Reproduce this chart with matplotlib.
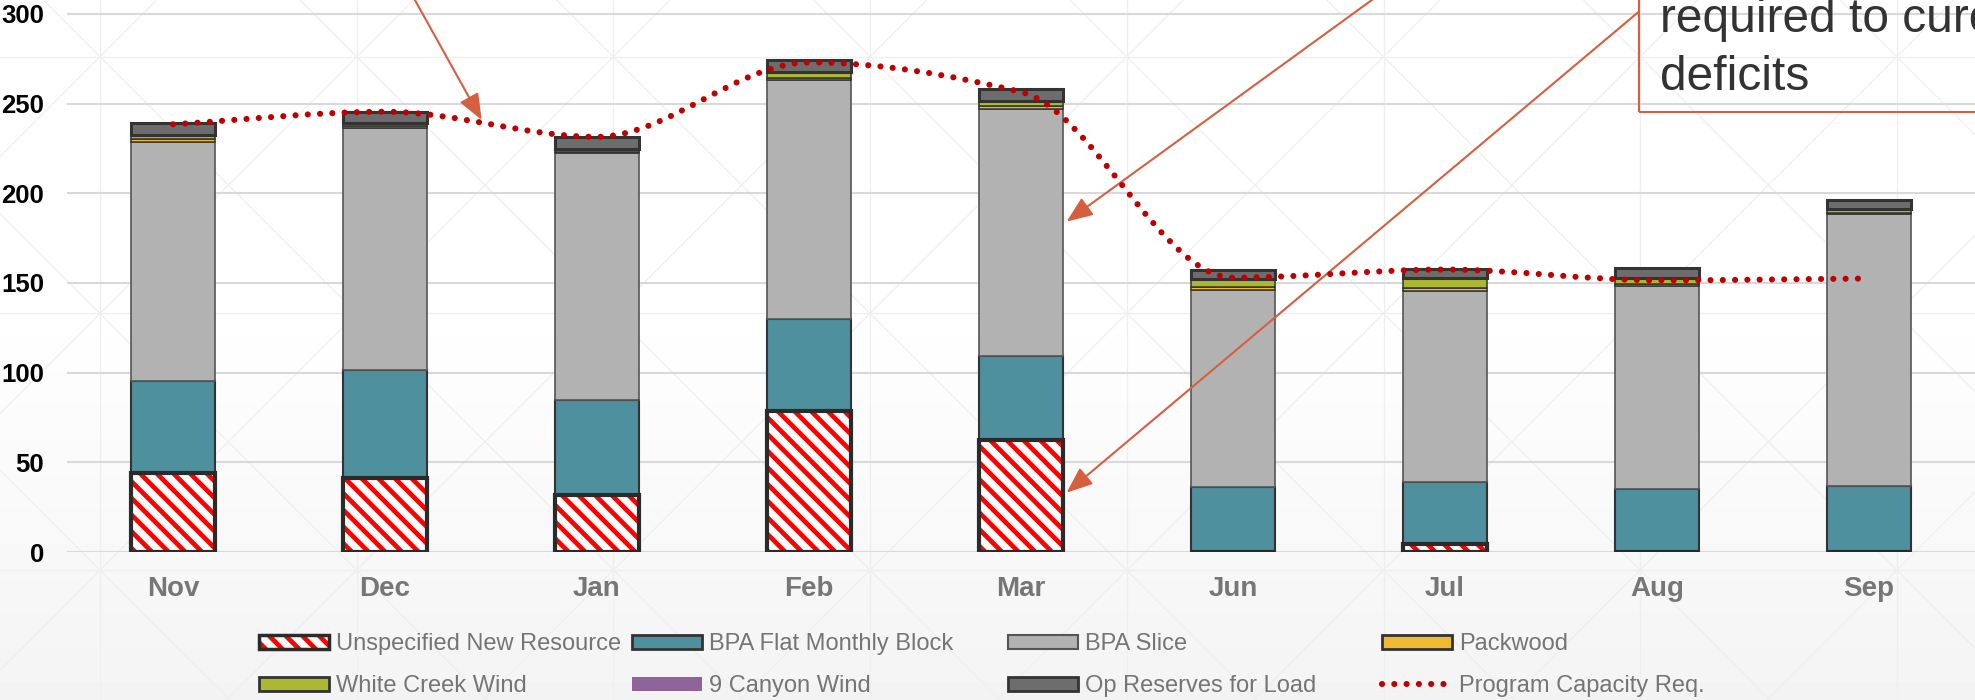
import numpy as np
import matplotlib
matplotlib.use("Agg")
import matplotlib.pyplot as plt
from matplotlib.patches import Patch, PathPatch, Rectangle
from matplotlib.path import Path
from matplotlib.lines import Line2D

plt.rcParams['font.family'] = ['Liberation Sans', 'DejaVu Sans']
plt.rcParams['hatch.linewidth'] = 3.4

# values (MW)
months = ["Nov", "Dec", "Jan", "Feb", "Mar", "Jun", "Jul", "Aug", "Sep"]
unspecified = [44, 41.5, 32, 78.5, 62.5, 0, 4.3, 0, 0]
flat_block = [51.5, 60, 53, 51.5, 47, 36.5, 35, 35, 37]
bpa_slice = [133, 134.8, 137.5, 133, 137.5, 109.5, 106.5, 113.5, 151.5]
packwood = [2, 1.2, 0.8, 1.5, 1.5, 1.8, 1.5, 1, 0.5]
white_creek = [2, 1.5, 1.6, 3, 3, 4.5, 5.5, 3.5, 2.5]
nine_canyon = [0, 0, 0, 0, 0, 0, 0, 0, 0]
op_reserves = [6.5, 6.5, 6.5, 7, 6.6, 4.9, 4.9, 5.5, 5]
program_req = [238.5, 245.5, 231.5, 273, 256.5, 153, 157.5, 151.5, 152.5]

W, H = 1975, 700
fig = plt.figure(figsize=(W / 100, H / 100), dpi=100)

# background: soft gradient + faint lattice
bg = fig.add_axes([0, 0, 1, 1], zorder=-10)
bg.set_xlim(0, W)
bg.set_ylim(H, 0)
bg.axis("off")
rows = np.arange(H)
shade = np.where(rows < 300, 1.0, 1.0 - (rows - 300) / 400 * 0.045)
bg.imshow(shade[:, None], cmap="gray", vmin=0, vmax=1, extent=[0, W, H, 0], aspect="auto")
step, x0, y0 = 256.7, 100, 56.7
lat = dict(color="#EFEFEF", lw=0.9)
for k in range(-2, 10):
    bg.axvline(x0 + k * step, **lat)
    bg.axhline(y0 + k * step, **lat)
for k in range(-10, 12):
    xs = np.array([-200, W + 200])
    bg.plot(xs, y0 + (xs - x0) + k * step, **lat)
    bg.plot(xs, y0 - (xs - x0) + k * step, **lat)

ax = fig.add_axes([67 / W, 148 / H, 1 - 67 / W, 552 / H])
ax.set_facecolor("none")
ax.set_xlim(-0.5, 8.5)
ax.set_ylim(0, 307.8)
for s in ax.spines.values():
    s.set_visible(False)
ax.set_yticks(range(0, 301, 50))
ax.yaxis.grid(True, color="#D9D9D9", lw=1.5)
ax.set_axisbelow(True)
ax.tick_params(length=0)
ax.tick_params(axis="y", pad=16.5, labelsize=18.5)
ax.tick_params(axis="x", pad=17.5, labelsize=20, labelcolor="#767676")
for t in ax.get_yticklabels():
    t.set_fontweight("bold")
x = np.arange(len(months))
ax.set_xticks(x)
ax.set_xticklabels(months, fontweight="bold")

width = 0.4
edge = "#333333"
red = "#FF0000"

# hatched bottom layer
ax.bar(x, unspecified, width, color="white", edgecolor=red, hatch="\\\\", lw=0, zorder=2)
ax.bar(x, unspecified, width, fill=False, edgecolor="#2B2B2B", lw=3, zorder=3)

layers = [
    (flat_block, "#4F909F", edge, 1.5),
    (bpa_slice, "#B2B2B2", "#555555", 1.2),
    (packwood, "#F0B932", edge, 1.1),
    (white_creek, "#ABB832", edge, 1.1),
    (nine_canyon, "#8F6499", "none", 0),
    (op_reserves, "#6D6D6D", edge, 2.2),
]
bottom = np.array(unspecified, dtype=float)
for vals, fc, ec, lw in layers:
    ax.bar(x, vals, width, bottom=bottom, color=fc, edgecolor=ec, lw=lw, zorder=2)
    bottom = bottom + np.array(vals)


def smooth_path(xs, ys):
    # monotone cubic (flat at local peaks/troughs) as Bezier segments
    xs = np.asarray(xs, float)
    ys = np.asarray(ys, float)
    h = np.diff(xs)
    delta = np.diff(ys) / h
    d = np.zeros_like(ys)
    d[0], d[-1] = delta[0], delta[-1]
    for k in range(1, len(ys) - 1):
        if delta[k - 1] * delta[k] > 0:
            d[k] = 2 / (1 / delta[k - 1] + 1 / delta[k])
    verts = [(xs[0], ys[0])]
    codes = [Path.MOVETO]
    for i in range(len(xs) - 1):
        verts += [(xs[i] + h[i] / 3, ys[i] + d[i] * h[i] / 3),
                  (xs[i + 1] - h[i] / 3, ys[i + 1] - d[i + 1] * h[i] / 3),
                  (xs[i + 1], ys[i + 1])]
        codes += [Path.CURVE4] * 3
    return Path(verts, codes)


dot_style = (0, (0.01, 2.0))
line = PathPatch(smooth_path(x, program_req), fill=False, edgecolor="#C00000", lw=4.4,
                 linestyle=dot_style, capstyle="round", zorder=6)
ax.add_patch(line)

# annotations
acol = "#D65F3F"
akw = dict(arrowstyle="-|>,head_length=0.8,head_width=0.32", color=acol, lw=1.5,
           mutation_scale=20, shrinkA=0, shrinkB=0)
ax.annotate("", xy=(1.456, 240.9), xytext=(403.8 / W, 1 + 20 / H), textcoords="figure fraction",
            arrowprops=akw, annotation_clip=False)
ax.annotate("", xy=(4.215, 184.2), xytext=(1399.4 / W, 1 + 20 / H), textcoords="figure fraction",
            arrowprops=akw, annotation_clip=False)
ax.annotate("", xy=(4.215, 33.1), xytext=(1638.8 / W, 1 - 11.7 / H), textcoords="figure fraction",
            arrowprops=akw, annotation_clip=False)
fig.add_artist(Rectangle((1638.8 / W, 1 - 112 / H), 600 / W, 200 / H, transform=fig.transFigure,
                         fill=False, edgecolor=acol, lw=1.5, zorder=7))
fig.text(1659.5 / W, 1 - 31.7 / H, "required to cure", fontsize=34.5, color="#333333", va="baseline", zorder=8)
fig.text(1659.5 / W, 1 - 90 / H, "deficits", fontsize=34.5, color="#333333", va="baseline", zorder=8)

# legend, four fixed-width columns
h_unspec = (Patch(facecolor="white", edgecolor=red, hatch="\\\\", lw=0),
            Patch(fill=False, edgecolor="#2B2B2B", lw=2.5))
h_flat = Patch(facecolor="#4F909F", edgecolor=edge, lw=2)
h_slice = Patch(facecolor="#B2B2B2", edgecolor="#555555", lw=1.5)
h_pack = Patch(facecolor="#F0B932", edgecolor=edge, lw=2)
h_wc = Patch(facecolor="#ABB832", edgecolor=edge, lw=2)
h_nine = Patch(facecolor="#8F6499", edgecolor="none")
h_op = Patch(facecolor="#6D6D6D", edgecolor=edge, lw=2)
h_prog = Line2D([], [], color="#C00000", lw=4.4, linestyle=dot_style, dash_capstyle="round")

columns = [
    ([h_unspec, h_wc], ["Unspecified New Resource", "White Creek Wind"], 259),
    ([h_flat, h_nine], ["BPA Flat Monthly Block", "9 Canyon Wind"], 632),
    ([h_slice, h_op], ["BPA Slice", "Op Reserves for Load"], 1008),
    ([h_pack, h_prog], ["Packwood", "Program Capacity Req."], 1382),
]
for hs, ls, xl in columns:
    fig.legend(hs, ls, loc="upper left", bbox_to_anchor=(xl / W, 1 - 633 / H), frameon=False,
               borderpad=0, borderaxespad=0, handlelength=2.95, handleheight=0.55,
               handletextpad=0.3, labelspacing=0.85, prop={"size": 17}, labelcolor="#757575")

fig.savefig("out.png", dpi=100)
